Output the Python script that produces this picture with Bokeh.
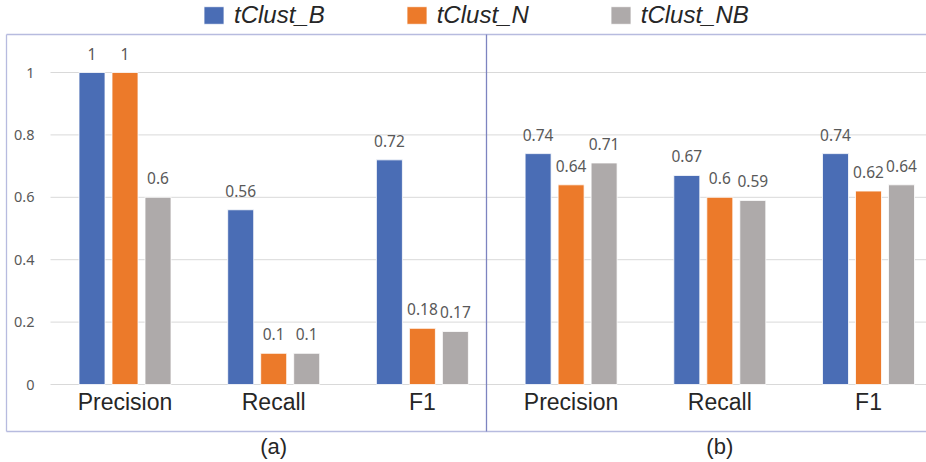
from bokeh.plotting import figure
from bokeh.models import ColumnDataSource, Range1d, Legend, LegendItem
from bokeh.core.properties import value
from bokeh.embed import file_html
from bokeh.resources import INLINE

# ---------------- data ----------------
categories = ["Precision", "Recall", "F1"]
panels = ["(a)", "(b)"]
series = ["tClust_B", "tClust_N", "tClust_NB"]
colors = ["#4a6db5", "#ec7a2a", "#aeaaaa"]
vals_a = {
    "tClust_B": [1.0, 0.56, 0.72],
    "tClust_N": [1.0, 0.10, 0.18],
    "tClust_NB": [0.60, 0.10, 0.17],
}
vals_b = {
    "tClust_B": [0.74, 0.67, 0.74],
    "tClust_N": [0.64, 0.60, 0.62],
    "tClust_NB": [0.71, 0.59, 0.64],
}
y_ticks = [0, 0.2, 0.4, 0.6, 0.8, 1.0]
y_tick_labels = ["0", "0.2", "0.4", "0.6", "0.8", "1"]

# ---------------- geometry ----------------
W, H = 926, 462
UNIT_X = 148.7          # px per group
UNIT_Y = 312.0          # px per unit value
ZERO_PX = 384.0
X0 = -124.5 / UNIT_X
X1 = X0 + W / UNIT_X
Y1 = ZERO_PX / UNIT_Y
Y0 = -(H - ZERO_PX) / UNIT_Y
BAR_W = 26 / UNIT_X
OFFS = [-33 / UNIT_X, 0.0, 33 / UNIT_X]


def cx(px):  # canvas px -> data x
    return X0 + px / UNIT_X


def cy(py):  # canvas py (from top) -> data y
    return (ZERO_PX - py) / UNIT_Y


p = figure(width=W, height=H, x_range=Range1d(X0, X1), y_range=Range1d(Y0, Y1),
           x_axis_type=None, y_axis_type=None, toolbar_location=None,
           output_backend="svg", min_border=0, outline_line_color=None,
           background_fill_color="white", border_fill_color="white")
p.xgrid.visible = False
p.ygrid.visible = False

# grid lines
p.segment(x0=[cx(50)] * len(y_ticks), x1=[X1] * len(y_ticks), y0=y_ticks, y1=y_ticks,
          line_color="#d9d9d9", line_width=1)

# panel borders
p.segment(x0=[cx(6), cx(6), cx(6), cx(486)],
          x1=[X1, X1, cx(6), cx(486)],
          y0=[cy(34), cy(431), cy(34), cy(34)],
          y1=[cy(34), cy(431), cy(431), cy(431)],
          line_color=["#b7bbdf", "#b7bbdf", "#b7bbdf", "#7d84c0"], line_width=1.3)

# bars
renderers = []
all_vals = [vals_a, vals_b]
for si, s in enumerate(series):
    xs, tops, labels = [], [], []
    for pi in range(2):
        for ci in range(len(categories)):
            xs.append(pi * 3 + ci + OFFS[si])
            v = all_vals[pi][s][ci]
            tops.append(v)
            labels.append(f"{v:g}")
    src = ColumnDataSource(dict(x=xs, top=tops, label=labels))
    r = p.vbar(x="x", top="top", width=BAR_W, bottom=0, source=src,
               fill_color=colors[si], line_color="white", line_width=0.8)
    renderers.append(r)
    p.text(x="x", y="top", text="label", source=src, text_align="center",
           text_baseline="middle", y_offset=-19, text_font=value("Noto Sans"),
           text_font_size="15.5px", text_color="#595959")

# y tick labels (left panel only)
p.text(x=[cx(34)] * len(y_ticks), y=y_ticks, text=y_tick_labels, text_align="right",
       text_baseline="middle", text_font=value("Noto Sans"), text_font_size="14.5px",
       text_color="#595959")

# category labels
cat_x, cat_t = [], []
for pi in range(2):
    for ci, c in enumerate(categories):
        cat_x.append(pi * 3 + ci)
        cat_t.append(c)
p.text(x=cat_x, y=[0] * len(cat_x), text=cat_t, text_align="center",
       text_baseline="middle", y_offset=17, text_font=value("Liberation Sans"),
       text_font_size="23px", text_color="#262626")

# panel labels
p.text(x=[1, 4], y=[0, 0], text=panels, text_align="center", text_baseline="middle",
       y_offset=62, text_font=value("Liberation Sans"), text_font_size="22px",
       text_color="#262626")

legend = Legend(items=[LegendItem(label=s, renderers=[r]) for s, r in zip(series, renderers)],
                orientation="horizontal", location=(201, 433), padding=0, margin=0,
                spacing=79, glyph_width=25, glyph_height=22, label_standoff=8,
                label_text_font="Liberation Sans", label_text_font_style="italic",
                label_text_font_size="24px", label_text_color="#262626",
                border_line_color=None, background_fill_alpha=0)
p.add_layout(legend)

open("out.html", "w").write(file_html(p, INLINE))
